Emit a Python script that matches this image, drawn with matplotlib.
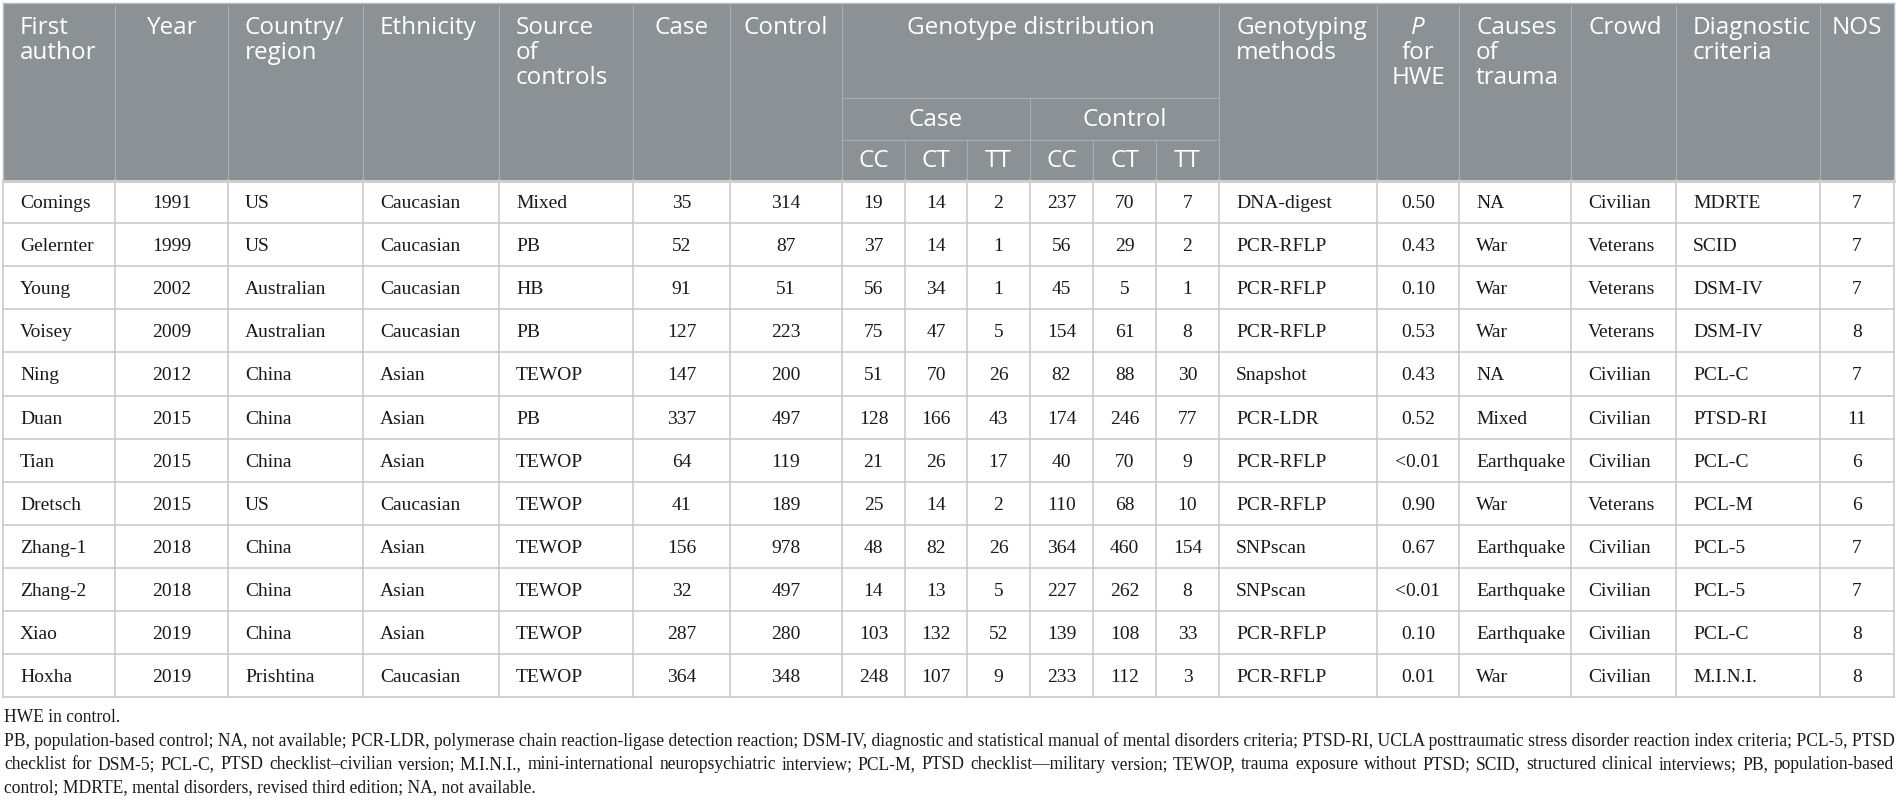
import matplotlib
matplotlib.use("Agg")
import matplotlib.pyplot as plt
from matplotlib.patches import Rectangle

# ---- table data ----
authors = ["Comings", "Gelernter", "Young", "Voisey", "Ning", "Duan", "Tian",
           "Dretsch", "Zhang-1", "Zhang-2", "Xiao", "Hoxha"]
years = [1991, 1999, 2002, 2009, 2012, 2015, 2015, 2015, 2018, 2018, 2019, 2019]
countries = ["US", "US", "Australian", "Australian", "China", "China", "China",
             "US", "China", "China", "China", "Prishtina"]
ethnicity = ["Caucasian", "Caucasian", "Caucasian", "Caucasian", "Asian", "Asian",
             "Asian", "Caucasian", "Asian", "Asian", "Asian", "Caucasian"]
sources = ["Mixed", "PB", "HB", "PB", "TEWOP", "PB", "TEWOP", "TEWOP", "TEWOP",
           "TEWOP", "TEWOP", "TEWOP"]
case_n = [35, 52, 91, 127, 147, 337, 64, 41, 156, 32, 287, 364]
control_n = [314, 87, 51, 223, 200, 497, 119, 189, 978, 497, 280, 348]
case_cc = [19, 37, 56, 75, 51, 128, 21, 25, 48, 14, 103, 248]
case_ct = [14, 14, 34, 47, 70, 166, 26, 14, 82, 13, 132, 107]
case_tt = [2, 1, 1, 5, 26, 43, 17, 2, 26, 5, 52, 9]
ctrl_cc = [237, 56, 45, 154, 82, 174, 40, 110, 364, 227, 139, 233]
ctrl_ct = [70, 29, 5, 61, 88, 246, 70, 68, 460, 262, 108, 112]
ctrl_tt = [7, 2, 1, 8, 30, 77, 9, 10, 154, 8, 33, 3]
methods = ["DNA-digest", "PCR-RFLP", "PCR-RFLP", "PCR-RFLP", "Snapshot", "PCR-LDR",
           "PCR-RFLP", "PCR-RFLP", "SNPscan", "SNPscan", "PCR-RFLP", "PCR-RFLP"]
p_hwe = ["0.50", "0.43", "0.10", "0.53", "0.43", "0.52", "<0.01", "0.90", "0.67",
         "<0.01", "0.10", "0.01"]
causes = ["NA", "War", "War", "War", "NA", "Mixed", "Earthquake", "War",
          "Earthquake", "Earthquake", "Earthquake", "War"]
crowd = ["Civilian", "Veterans", "Veterans", "Veterans", "Civilian", "Civilian",
         "Civilian", "Veterans", "Civilian", "Civilian", "Civilian", "Civilian"]
criteria = ["MDRTE", "SCID", "DSM-IV", "DSM-IV", "PCL-C", "PTSD-RI", "PCL-C",
            "PCL-M", "PCL-5", "PCL-5", "PCL-C", "M.I.N.I."]
nos = [7, 7, 7, 8, 7, 11, 6, 6, 7, 7, 8, 8]

footnotes = [
    "HWE in control.",
    "PB, population-based control; NA, not available; PCR-LDR, polymerase chain reaction-ligase "
    "detection reaction; DSM-IV, diagnostic and statistical manual of mental disorders criteria; "
    "PTSD-RI, UCLA posttraumatic stress disorder reaction index criteria; PCL-5, PTSD",
    "checklist for DSM-5; PCL-C, PTSD checklist\u2013civilian version; M.I.N.I., mini-international "
    "neuropsychiatric interview; PCL-M, PTSD checklist\u2014military version; TEWOP, trauma exposure "
    "without PTSD; SCID, structured clinical interviews; PB, population-based",
    "control; MDRTE, mental disorders, revised third edition; NA, not available.",
]

columns = [authors, years, countries, ethnicity, sources, case_n, control_n,
           case_cc, case_ct, case_tt, ctrl_cc, ctrl_ct, ctrl_tt,
           methods, p_hwe, causes, crowd, criteria, nos]
align = ["l", "c", "l", "l", "l", "c", "c", "c", "c", "c", "c", "c", "c",
         "l", "c", "l", "l", "l", "c"]

# ---- layout (pixels) ----
W, H = 1897, 803
col_x = [3, 115, 228, 363, 499, 633, 730, 842, 905, 967, 1030, 1093, 1156,
         1219, 1377, 1459, 1571, 1676, 1820, 1894]
top, head_bot, row_h = 4, 181, 43.1
pad = 17

head_bg = "#8b9194"
head_line = "#a9aeb1"
grid = "#c6c6c6"
serif = "Liberation Serif"
sans = "Open Sans"
body_size = 14
head_size = 17.5

fig = plt.figure(figsize=(W / 100, H / 100), dpi=100)
ax = fig.add_axes([0, 0, 1, 1])
ax.set_xlim(0, W)
ax.set_ylim(H, 0)
ax.axis("off")

# header
ax.add_patch(Rectangle((col_x[0], top), col_x[-1] - col_x[0], head_bot - top,
                       facecolor=head_bg, edgecolor="none"))
ax.plot([col_x[0], col_x[-1]], [top, top], color="#b8bcbe", lw=1)

headers = {0: ["First", "author"], 1: ["Year"], 2: ["Country/", "region"],
           3: ["Ethnicity"], 4: ["Source", "of", "controls"], 5: ["Case"],
           6: ["Control"], 13: ["Genotyping", "methods"], 14: ["P", "for", "HWE"],
           15: ["Causes", "of", "trauma"], 16: ["Crowd"],
           17: ["Diagnostic", "criteria"], 18: ["NOS"]}
for ci, lines in headers.items():
    for li, s in enumerate(lines):
        y = 28 + 25 * li
        style = "italic" if (ci == 14 and li == 0) else "normal"
        if align[ci] == "l":
            ax.text(col_x[ci] + pad, y, s, ha="left", va="center", color="white",
                    family=sans, size=head_size, style=style)
        else:
            ax.text((col_x[ci] + col_x[ci + 1]) / 2, y, s, ha="center", va="center",
                    color="white", family=sans, size=head_size, style=style)

g0, g1, gm = col_x[7], col_x[13], col_x[10]
ax.text((g0 + g1) / 2, 28, "Genotype distribution", ha="center", va="center",
        color="white", family=sans, size=head_size)
ax.text((g0 + gm) / 2, 120, "Case", ha="center", va="center", color="white",
        family=sans, size=head_size)
ax.text((gm + g1) / 2, 120, "Control", ha="center", va="center", color="white",
        family=sans, size=head_size)
for k, s in enumerate(["CC", "CT", "TT", "CC", "CT", "TT"]):
    ax.text((col_x[7 + k] + col_x[8 + k]) / 2, 161, s, ha="center", va="center",
            color="white", family=sans, size=head_size)

# header rules
for i, x in enumerate(col_x[1:-1], start=1):
    if i in (8, 9, 11, 12):
        ax.plot([x, x], [141, head_bot], color=head_line, lw=0.8)
    elif i == 10:
        ax.plot([x, x], [99, head_bot], color=head_line, lw=0.8)
    else:
        ax.plot([x, x], [top + 3, head_bot], color=head_line, lw=0.8)
ax.plot([g0, g1], [99, 99], color=head_line, lw=0.8)
ax.plot([g0, g1], [141, 141], color=head_line, lw=0.8)

# body
n = len(authors)
bottom = head_bot + n * row_h
for r in range(n):
    yc = head_bot + row_h * (r + 0.5) + 1
    for ci, col in enumerate(columns):
        s = str(col[r])
        if align[ci] == "l":
            ax.text(col_x[ci] + pad, yc, s, ha="left", va="center", color="#1a1a1a",
                    family=serif, size=body_size)
        else:
            ax.text((col_x[ci] + col_x[ci + 1]) / 2, yc, s, ha="center", va="center",
                    color="#1a1a1a", family=serif, size=body_size)

for r in range(1, n + 1):
    y = head_bot + r * row_h
    ax.plot([col_x[0], col_x[-1]], [y, y], color=grid, lw=1.1)
for x in col_x:
    ax.plot([x, x], [head_bot, bottom], color=grid, lw=1.1)
ax.plot([col_x[0], col_x[0]], [top, head_bot], color="#b8bcbe", lw=1)
ax.plot([col_x[-1], col_x[-1]], [top, head_bot], color="#b8bcbe", lw=1)
ax.plot([col_x[0], col_x[-1]], [head_bot + 1, head_bot + 1], color="#cfcfcf", lw=2.2)

# footnotes, first long line fitted to the table width, second justified
fig.canvas.draw()
rend = fig.canvas.get_renderer()


def width_of(s, size):
    t = ax.text(0, 0, s, family=serif, size=size)
    w = t.get_window_extent(rend).width
    t.remove()
    return w


target = col_x[-1] - 4
foot_size = 12 * target / width_of(footnotes[1], 12)
foot_y = [718, 741, 765, 788]
for i, s in enumerate(footnotes):
    if i == 2:
        words = s.split(" ")
        ws = [width_of(w_, foot_size) for w_ in words]
        gap = (target - sum(ws)) / (len(words) - 1)
        x = 4
        for w_, wd in zip(words, ws):
            ax.text(x, foot_y[i], w_, ha="left", va="center", family=serif,
                    size=foot_size, color="#1a1a1a")
            x += wd + gap
    else:
        ax.text(4, foot_y[i], s, ha="left", va="center", family=serif,
                size=foot_size, color="#1a1a1a")

fig.savefig("out.png", dpi=100, facecolor="white")
